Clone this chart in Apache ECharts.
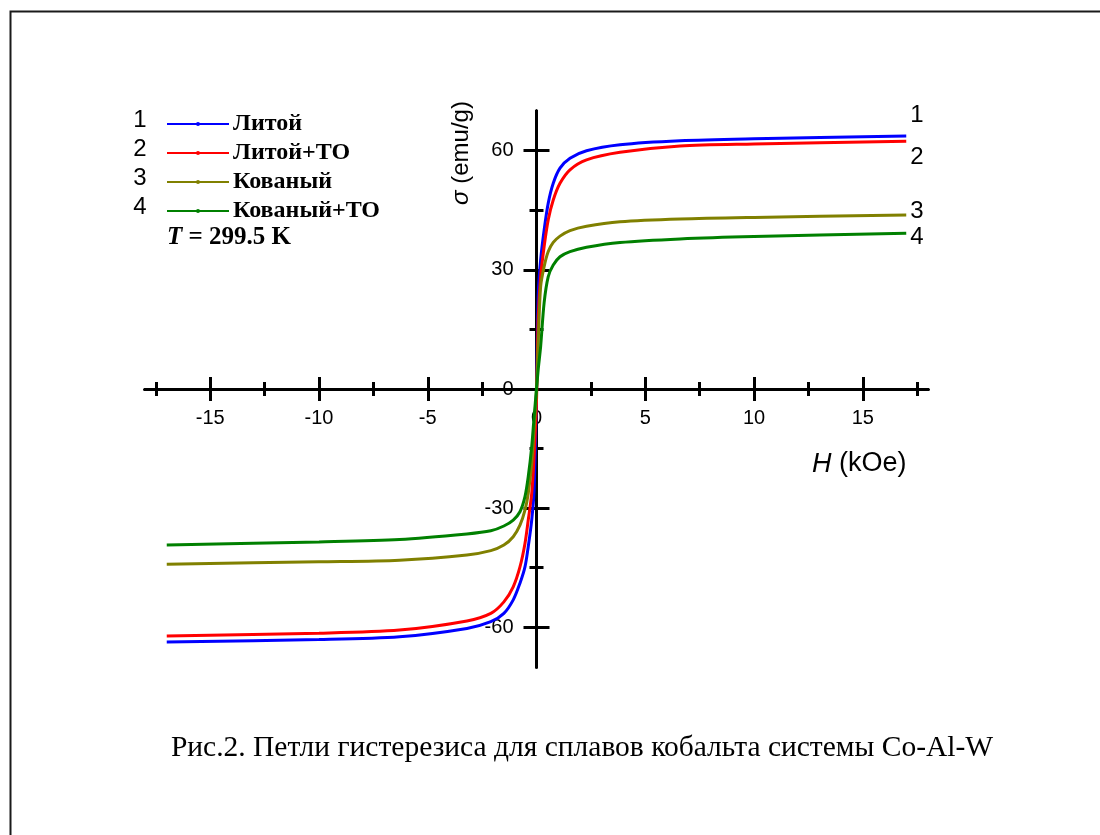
<!DOCTYPE html>
<html><head><meta charset="utf-8">
<script src="https://cdn.jsdelivr.net/npm/echarts@6/dist/echarts.min.js"></script>
<style>html,body{margin:0;padding:0;background:#fff}#c{width:1100px;height:835px}</style>
</head><body><div id="c"></div>
<script>
const H = [-17, -10, -6.3, -3.2, -2.1, -1.5, -1.07, -0.76, -0.53, -0.38, -0.22, -0.11, 0, 0.08, 0.19, 0.35, 0.54, 0.77, 1.08, 1.54, 2.3, 3.84, 6.6, 10, 17];
const litoy   = [-63.7, -63.1, -62.4, -60.3, -58.6, -56.5, -53.1, -48.9, -44.8, -39.7, -33.0, -25.4, -1, 24.0, 32.5, 40.0, 46.8, 51.8, 55.6, 58.1, 60.0, 61.5, 62.5, 63.0, 63.7];
const litoyTO = [-62.2, -61.5, -60.7, -58.4, -56.5, -53.6, -49.8, -44.8, -38.9, -33.0, -26.3, -17.0, -3, 18.0, 28.3, 35.8, 42.6, 47.6, 51.8, 55.2, 57.7, 59.6, 61.2, 61.7, 62.4];
const kovany  = [-44.1, -43.5, -43.1, -41.8, -40.7, -39.3, -37.2, -34.3, -30.5, -26.3, -18.7, -10.0, 0, 12.0, 25.8, 30.8, 34.6, 36.9, 38.5, 39.9, 41.0, 42.1, 42.8, 43.2, 43.8];
const kovanyTO= [-39.3, -38.5, -37.9, -36.5, -35.7, -34.5, -33.0, -30.9, -27.1, -22.1, -14.5, -7.0, 0, 5.0, 10.7, 21.7, 28.3, 31.2, 33.3, 34.6, 35.7, 36.9, 37.8, 38.4, 39.2];
const seriesNames = ['Литой', 'Литой+ТО', 'Кованый', 'Кованый+ТО'];
const seriesNums = ['1', '2', '3', '4'];
const xMajor = [-15, -10, -5, 0, 5, 10, 15];
const xMajorTicks = [-15, -10, -5, 5, 10, 15];
const xMinor = [-17.5, -12.5, -7.5, -2.5, 2.5, 7.5, 12.5, 17.5];
const yMajor = [-60, -30, 0, 30, 60];
const yMajorTicks = [-60, -30, 30, 60];
const yMinor = [-45, -15, 15, 45];
const caption = 'Рис.2. Петли гистерезиса для сплавов кобальта системы Co-Al-W';

const colors = ['#0000ff', '#ff0000', '#808000', '#008000'];
const values = [litoy, litoyTO, kovany, kovanyTO];
const sans = 'Liberation Sans, Arial, sans-serif';
const serif = 'Liberation Serif, Times New Roman, serif';

const G = { left: 145, top: 111, width: 783, height: 556 };
const X0 = G.width / 2;
const Y0 = G.height / 2;

function xAx(ticks, len, inside, labels) {
  return {
    type: 'value', min: -18, max: 18, gridIndex: 0, position: 'bottom', offset: -Y0,
    axisLine: { onZero: false, lineStyle: { color: '#000', width: 3 } },
    splitLine: { show: false },
    axisTick: { show: true, customValues: ticks, length: len, inside: inside, lineStyle: { color: '#000', width: 3 } },
    axisLabel: labels ? { show: true, customValues: xMajor, color: '#000', fontFamily: sans, fontSize: 20, margin: 19 } : { show: false }
  };
}
function yAx(ticks, len, inside, labels) {
  return {
    type: 'value', min: -70, max: 70, gridIndex: 0, position: 'left', offset: -X0,
    axisLine: { onZero: false, lineStyle: { color: '#000', width: 3 } },
    splitLine: { show: false },
    axisTick: { show: true, customValues: ticks, length: len, inside: inside, lineStyle: { color: '#000', width: 3 } },
    axisLabel: labels ? { show: true, customValues: yMajor, color: '#000', fontFamily: sans, fontSize: 20, margin: 23 } : { show: false }
  };
}

const num = (x, y, t) => ({ type: 'text', x: x, y: y, style: { text: t, font: '24px ' + sans, fill: '#000', textAlign: 'center', textVerticalAlign: 'middle' } });

const chart = echarts.init(document.getElementById('c'), null, { renderer: 'canvas' });
chart.setOption({
  animation: false,
  backgroundColor: '#fff',
  grid: G,
  xAxis: [
    xAx(xMajorTicks, 12, false, true),
    xAx(xMajorTicks, 12, true, false),
    xAx(xMinor, 7, false, false),
    xAx(xMinor, 7, true, false)
  ],
  yAxis: [
    yAx(yMajorTicks, 13, false, true),
    yAx(yMajorTicks, 13, true, false),
    yAx(yMinor, 7, false, false),
    yAx(yMinor, 7, true, false)
  ],
  legend: {
    orient: 'vertical', left: 166, top: 112, padding: 0,
    itemWidth: 62, itemHeight: 5, itemGap: 5,
    data: seriesNames,
    textStyle: { fontFamily: serif, fontSize: 24, fontWeight: 'bold', color: '#000', lineHeight: 20, padding: [0, 0, 0, -1] }
  },
  series: seriesNames.map((n, i) => ({
    name: n, type: 'line', xAxisIndex: 0, yAxisIndex: 0,
    data: H.map((h, k) => [h, values[i][k]]),
    smooth: 0.3,
    symbol: 'circle', symbolSize: 3, showSymbol: false,
    lineStyle: { color: colors[i], width: 3 },
    itemStyle: { color: colors[i] }
  })),
  graphic: [
    { type: 'rect', left: 8, top: 9, shape: { width: 1110, height: 850 }, style: { fill: null, stroke: '#1a1a1a', lineWidth: 2 }, silent: true, z: 0 },
    num(140, 120, seriesNums[0]), num(140, 149, seriesNums[1]), num(140, 178, seriesNums[2]), num(140, 207, seriesNums[3]),
    num(917, 115, seriesNums[0]), num(917, 157, seriesNums[1]), num(917, 211, seriesNums[2]), num(917, 237, seriesNums[3]),
    { type: 'text', x: 167, y: 238, style: { text: '{i|T} = 299.5 K', textVerticalAlign: 'middle', fill: '#000', font: 'bold 25px ' + serif,
        rich: { i: { fontStyle: 'italic', fontWeight: 'bold', fontFamily: serif, fontSize: 25, fill: '#000' } } } },
    { type: 'text', x: 461, y: 153, rotation: Math.PI / 2, style: { text: '{i|σ} (emu/g)', textAlign: 'center', textVerticalAlign: 'middle', fill: '#000', font: '24px ' + sans,
        rich: { i: { fontStyle: 'italic', fontFamily: sans, fontSize: 24, fill: '#000' } } } },
    { type: 'text', x: 812, y: 464, style: { text: '{i|H} (kOe)', textVerticalAlign: 'middle', fill: '#000', font: '27px ' + sans,
        rich: { i: { fontStyle: 'italic', fontFamily: sans, fontSize: 27, fill: '#000' } } } },
    { type: 'text', x: 582, y: 748, style: { text: caption, textAlign: 'center', textVerticalAlign: 'middle', fill: '#000', font: '29.5px ' + serif } }
  ]
});
</script></body></html>
